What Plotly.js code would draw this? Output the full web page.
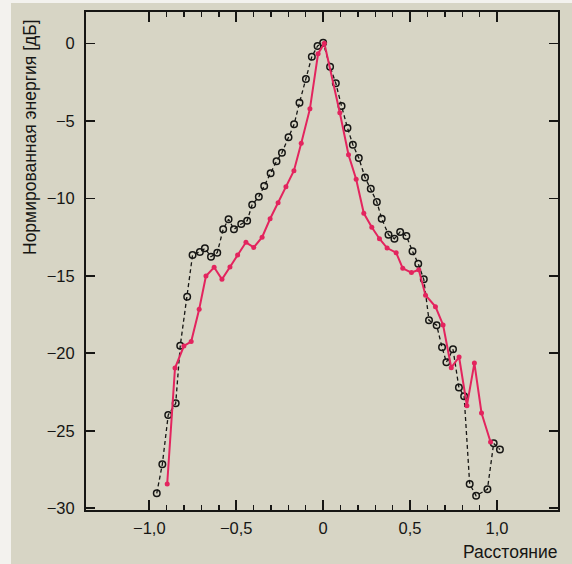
<!DOCTYPE html>
<html>
<head>
<meta charset="utf-8">
<script src="https://cdn.plot.ly/plotly-3.0.1.min.js"></script>
<style>html,body{margin:0;padding:0;background:#d7d5c5;}#chart{width:572px;height:564px;}</style>
</head>
<body>
<div id="chart"></div>
<script>
// Black dashed series (open circles)
const blackX = [-0.957,-0.925,-0.891,-0.848,-0.822,-0.782,-0.751,-0.709,-0.680,-0.645,-0.609,-0.575,-0.544,-0.513,-0.471,-0.437,-0.408,-0.370,-0.339,-0.302,-0.268,-0.237,-0.199,-0.167,-0.136,-0.099,-0.065,-0.032,0.0,0.040,0.073,0.106,0.140,0.171,0.205,0.241,0.274,0.309,0.337,0.376,0.410,0.443,0.479,0.514,0.547,0.579,0.609,0.653,0.684,0.709,0.747,0.781,0.811,0.843,0.880,0.945,0.981,1.017];
const blackY = [-29.03,-27.16,-23.98,-23.23,-19.52,-16.35,-13.65,-13.46,-13.23,-13.77,-13.51,-12.0,-11.35,-12.0,-11.66,-11.45,-10.41,-9.90,-9.21,-8.39,-7.61,-7.06,-6.06,-5.23,-3.83,-2.30,-0.86,-0.17,0.04,-1.51,-2.58,-4.05,-5.46,-6.54,-7.40,-8.65,-9.38,-10.24,-11.32,-12.35,-12.61,-12.17,-12.43,-13.42,-14.22,-15.23,-17.87,-18.19,-19.61,-20.58,-19.74,-22.21,-22.77,-28.43,-29.19,-28.77,-25.81,-26.21];

// Red solid series (filled dots)
const redX = [-0.897,-0.852,-0.801,-0.759,-0.713,-0.674,-0.627,-0.582,-0.536,-0.492,-0.444,-0.399,-0.351,-0.305,-0.259,-0.214,-0.168,-0.126,-0.076,-0.029,0.007,0.096,0.146,0.190,0.234,0.280,0.324,0.368,0.420,0.458,0.508,0.550,0.589,0.646,0.690,0.737,0.782,0.827,0.870,0.911,0.963];
const redY = [-28.43,-20.95,-19.53,-19.24,-17.16,-15.01,-14.45,-15.23,-14.43,-13.66,-12.84,-13.17,-12.51,-11.32,-10.28,-9.25,-8.22,-6.45,-4.23,-0.67,0.0,-4.48,-7.19,-8.77,-10.97,-11.87,-12.61,-13.21,-13.51,-14.52,-14.79,-14.61,-16.25,-16.99,-18.17,-20.93,-20.24,-23.38,-20.63,-23.85,-25.72];

// Tick labels
const xTickVals = [-1, -0.5, 0, 0.5, 1];
const xTickText = ["\u22121,0", "\u22120,5", "0", "0,5", "1,0"];
const xMinorVals = [-0.9,-0.8,-0.7,-0.6,-0.4,-0.3,-0.2,-0.1,0.1,0.2,0.3,0.4,0.6,0.7,0.8,0.9];
const yTickVals = [0, -5, -10, -15, -20, -25, -30];
const yTickText = ["0", "\u22125", "\u221210", "\u221215", "\u221220", "\u221225", "\u221230"];

const yTitle = "Нормированная энергия [дБ]";
const xTitle = "Расстояние";

const ink = "#161614";
const bg = "#d7d5c5";

const traces = [
  {
    x: blackX, y: blackY, type: "scatter", mode: "lines+markers",
    line: {color: ink, width: 1.3, dash: "4px,3px"},
    marker: {symbol: "circle-open", size: 6.5, color: ink, line: {width: 1.5, color: ink}},
    hoverinfo: "skip"
  },
  {
    x: redX, y: redY, type: "scatter", mode: "lines+markers",
    line: {color: "#e3245e", width: 2},
    marker: {symbol: "circle", size: 5, color: "#e3245e"},
    hoverinfo: "skip"
  }
];

const tickFont = {family: "Liberation Sans, Arial, sans-serif", size: 16.5, color: ink};

const layout = {
  width: 572, height: 564,
  margin: {l: 86, r: 14, t: 12, b: 54, pad: 0},
  paper_bgcolor: bg, plot_bgcolor: bg,
  showlegend: false,
  xaxis: {
    range: [-1.364, 1.351],
    tickmode: "array", tickvals: xTickVals, ticktext: xTickText,
    ticks: "inside", ticklen: 10, tickwidth: 1.6, tickcolor: ink,
    minor: {tickmode: "array", tickvals: xMinorVals, ticks: "inside", ticklen: 5, tickwidth: 1.4, tickcolor: ink, showgrid: false},
    showline: true, linecolor: ink, linewidth: 2, mirror: "ticks",
    showgrid: false, zeroline: false,
    tickfont: tickFont, ticklabelstandoff: 2
  },
  yaxis: {
    range: [-30.11, 2.02],
    tickmode: "array", tickvals: yTickVals, ticktext: yTickText,
    ticks: "inside", ticklen: 9, tickwidth: 1.6, tickcolor: ink,
    showline: true, linecolor: ink, linewidth: 2, mirror: "ticks",
    showgrid: false, zeroline: false,
    tickfont: tickFont, ticklabelstandoff: 6
  },
  annotations: [
    {
      text: yTitle, xref: "paper", yref: "paper",
      x: (30 - 86) / 472, y: (510 - 137) / 498,
      xanchor: "center", yanchor: "middle", textangle: -90, showarrow: false,
      font: {family: "Liberation Sans, Arial, sans-serif", size: 17.5, color: ink}
    },
    {
      text: xTitle, xref: "paper", yref: "paper",
      x: (560 - 86) / 472, y: (510 - 552) / 498,
      xanchor: "right", yanchor: "middle", showarrow: false,
      font: {family: "Liberation Sans, Arial, sans-serif", size: 17.5, color: ink}
    }
  ],
  shapes: [
    {type: "rect", xref: "paper", yref: "paper", x0: (0 - 86) / 472, x1: (11 - 86) / 472, y0: (510 - 564) / 498, y1: (510 - 0) / 498, fillcolor: "#f3f2ee", line: {width: 0}, layer: "below"},
    {type: "rect", xref: "paper", yref: "paper", x0: (0 - 86) / 472, x1: (572 - 86) / 472, y0: (510 - 3) / 498, y1: (510 - 0) / 498, fillcolor: "#f3f2ee", line: {width: 0}, layer: "below"}
  ]
};

Plotly.newPlot("chart", traces, layout, {displayModeBar: false, staticPlot: true});
</script>
</body>
</html>
